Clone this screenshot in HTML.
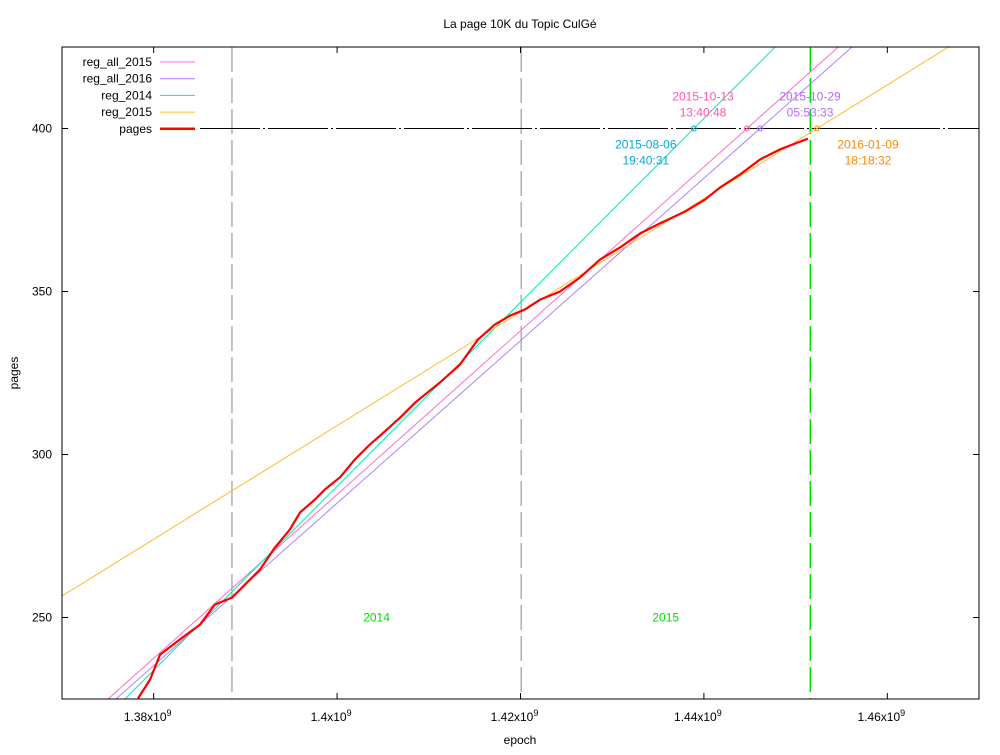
<!DOCTYPE html>
<html><head><meta charset="utf-8"><style>
body{margin:0;background:#fff;}
svg text{font-family:"Liberation Sans","DejaVu Sans",sans-serif;font-size:12px;}
</style></head><body>
<svg id="chart" width="1000" height="750" xmlns="http://www.w3.org/2000/svg"></svg>
<script>
const xTicks=[1.38e9,1.40e9,1.42e9,1.44e9,1.46e9];
const xTickLabels=["1.38x10","1.4x10","1.42x10","1.44x10","1.46x10"];
const yTicks=[250,300,350,400];
const pagesX=[1.37829,1.37960,1.38069,1.38287,1.38505,1.38668,1.38854,1.38996,1.39159,1.39323,1.39486,1.39595,1.39759,1.39868,1.40032,1.40195,1.40359,1.40522,1.40686,1.40850,1.41122,1.41340,1.41537,1.41722,1.41886,1.42049,1.42213,1.42431,1.42649,1.42867,1.43085,1.43303,1.43521,1.43794,1.44012,1.44176,1.44394,1.44612,1.44830,1.45135];
const pagesY=[225.2,230.9,238.6,243.3,247.8,254.0,256.1,260.1,264.7,271.5,277.0,282.2,286.2,289.3,293.0,298.5,303.1,307.1,311.3,315.9,322.1,327.6,335.3,339.9,342.6,344.5,347.5,350.0,354.3,359.8,363.5,367.8,370.9,374.5,378.2,381.9,385.9,390.5,393.6,396.9];
// regressions: epoch (x1e9) at y=225 and at y=400
const regNames=["reg_all_2015","reg_all_2016","reg_2014","reg_2015"];
const regColors=["#ff6ec7","#b27cff","#00eebb","#ffbb33"];
const regAt225=[1.37502,1.37589,1.37687,1.35186];
const regAt400=[1.44470,1.44612,1.43890,1.45233];
const crossLabels=[["2015-10-13","13:40:48"],["2015-10-29","05:53:33"],["2015-08-06","19:40:31"],["2016-01-09","18:18:32"]];
const labelColors=["#ff55aa","#b06cff","#00aadd","#ff8800"];
const labelDx=[-44,50,-48,51];
const yearLines=[1.388534,1.420070,1.451606];
const yearText=["2014","2015"];

const L=62,R=979,T=47,B=699,X0=1.37e9,X1=1.47e9,Y0=225,Y1=425;
const sx=v=>L+(v-X0)/(X1-X0)*(R-L);
const sy=v=>B-(v-Y0)/(Y1-Y0)*(B-T);
const svg=document.getElementById('chart');
function mk(t,a,p){const e=document.createElementNS('http://www.w3.org/2000/svg',t);for(const k in a)e.setAttribute(k,a[k]);(p||svg).appendChild(e);return e;}
let e;
e=mk('text',{x:520,y:28,'text-anchor':'middle','font-size':12});e.textContent='La page 10K du Topic CulGé';


const clip=mk('clipPath',{id:'c'});mk('rect',{x:L,y:T,width:R-L,height:B-T},clip);
const g=mk('g',{'clip-path':'url(#c)'});
yearLines.forEach((v,i)=>{e=mk('line',{x1:sx(v*1e9),x2:sx(v*1e9),y1:T,y2:B,stroke:i==2?'#00dd00':'#888','stroke-width':i==2?1.5:1,'stroke-dasharray':'25,6'},g);

});
yearText.forEach((t,i)=>{e=mk('text',{x:(sx(yearLines[i]*1e9)+sx(yearLines[i+1]*1e9))/2,y:sy(250)+4,'text-anchor':'middle',fill:'#00dd00'});e.textContent=t;

});
e=mk('line',{x1:200,x2:R,y1:sy(400),y2:sy(400),stroke:'#000','stroke-dasharray':'60,3,2,3'},g);


regNames.forEach((n,i)=>{const a=regAt225[i]*1e9,b=regAt400[i]*1e9,s=(400-225)/(b-a);
e=mk('line',{x1:sx(X0),y1:sy(225+(X0-a)*s),x2:sx(X1),y2:sy(225+(X1-a)*s),stroke:regColors[i],'stroke-width':1},g);


e=mk('circle',{cx:sx(b),cy:sy(400),r:2.5,fill:'none',stroke:labelColors[i]},g);


const below=(i>=2);const lx=sx(b)+labelDx[i];const ly=below?sy(400)+20:sy(400)-28;
crossLabels[i].forEach((t,j)=>{e=mk('text',{x:lx,y:ly+j*16,'text-anchor':'middle',fill:labelColors[i]});e.textContent=t;

});});
e=mk('polyline',{points:pagesX.map((v,i)=>sx(v*1e9)+','+sy(pagesY[i])).join(' '),fill:'none',stroke:'#ff0000','stroke-width':2.2,'stroke-linejoin':'round'},g);


e=mk('rect',{x:L,y:T,width:R-L,height:B-T,fill:'none',stroke:'#000'});


xTicks.forEach((v,i)=>{const x=sx(v);mk('line',{x1:x,x2:x,y1:B,y2:B-6,stroke:'#000'});mk('line',{x1:x,x2:x,y1:T,y2:T+6,stroke:'#000'});
e=mk('text',{x:x-6,y:B+22,'text-anchor':'middle'});e.textContent=xTickLabels[i];mk('tspan',{dy:-5,'font-size':9},e).textContent='9';

});
yTicks.forEach(v=>{const y=sy(v);mk('line',{x1:L,x2:L+6,y1:y,y2:y,stroke:'#000'});mk('line',{x1:R,x2:R-6,y1:y,y2:y,stroke:'#000'});
e=mk('text',{x:L-10,y:y+4,'text-anchor':'end'});e.textContent=v;

});
e=mk('text',{x:520,y:744,'text-anchor':'middle'});e.textContent='epoch';


e=mk('text',{x:18,y:373,'text-anchor':'middle',transform:'rotate(-90 18 373)'});e.textContent='pages';


const legN=regNames.concat(['pages']),legC=regColors.concat(['#ff0000']);
legN.forEach((n,i)=>{const y=62+i*16.7;
e=mk('text',{x:152,y:y+4,'text-anchor':'end'});e.textContent=n;


mk('line',{x1:160,x2:195,y1:y,y2:y,stroke:legC[i],'stroke-width':i==4?2.5:1});});
</script>
</body></html>
